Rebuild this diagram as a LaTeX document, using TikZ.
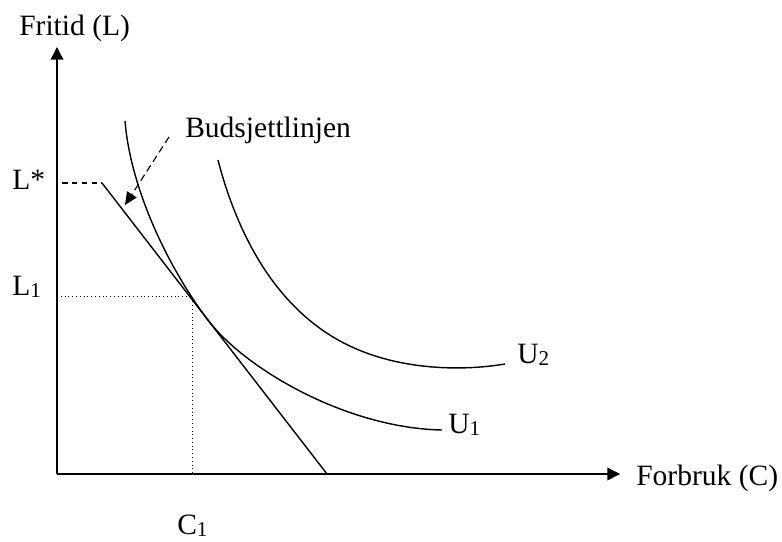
\documentclass[tikz,border=0pt]{standalone}
\usepackage{fontspec}
\setmainfont{Liberation Serif}
\usetikzlibrary{arrows.meta,hobby}
\newcommand\lsub[1]{\raisebox{-2pt}{\fontsize{15pt}{17pt}\selectfont #1}}
\tikzset{
    lbl/.style={inner sep=0pt,anchor=base west,font=\fontsize{21pt}{25pt}\selectfont},
    axis/.style={line width=1pt,-{Triangle[length=9pt,width=9pt]}},
    curve/.style={line width=1pt}
}
\begin{document}
\begin{tikzpicture}
        \useasboundingbox (-1.425,-1.675) rectangle (18.125,11.85);
        \coordinate (O) at (0,0);
        \coordinate (ytop) at (0,10.675);
        \coordinate (xend) at (14.075,0);
        \draw [axis] (O) -- (ytop);
        \draw [axis] (O) -- (xend);
        \node [lbl] (fritid) at (-0.95,10.975) {Fritid (L)};
        \node [lbl] (forbruk) at (14.475,-0.275) {Forbruk (C)};
        % budsjettlinje og L*
        \coordinate (Lstar) at (0.125,7.275);
        \coordinate (knekk) at (1.125,7.275);
        \coordinate (bunn) at (6.75,0);
        \node [lbl] (lstar) at (-1.125,7.125) {L*};
        \draw [line width=0.8pt,dash pattern=on 4pt off 3pt] (Lstar) -- (knekk);
        \draw [curve] (knekk) -- (bunn);
        \node [lbl] (budsjett) at (3.2,8.425) {Budsjettlinjen};
        \coordinate (pilstart) at (2.8,8.425);
        \coordinate (pilslutt) at (1.7,6.725);
        \draw [line width=0.8pt,dash pattern=on 5pt off 3pt,-{Triangle[length=9pt,width=8pt]}] (pilstart) -- (pilslutt);
        % optimum
        \coordinate (L1) at (0,4.45);
        \coordinate (opt) at (3.375,4.45);
        \coordinate (C1) at (3.375,0);
        \draw [dotted,line width=0.7pt] (L1) -- (opt) -- (C1);
        \node [lbl] (l1) at (-1.125,4.475) {L\lsub{1}};
        \node [lbl] (c1) at (3.0,-1.5) {C\lsub{1}};
        % indifferenskurver
        \coordinate (T) at (3.8,3.815);
        \draw [curve] (1.7,8.825) .. controls (1.85,7.0) and (2.9,4.98) .. (T)
            .. controls (4.7,2.651) and (7.2,1.15) .. (9.625,1.1) coordinate (u1end);
        \draw [curve,use Hobby shortcut] (4.025,7.85) .. (4.4,6.675) .. (5.25,5.025) .. (6.9,3.425) .. (9.4,2.675) .. (11.2,2.75) coordinate (u2end);
        \node [lbl] (u1) at (9.775,1.025) {U\lsub{1}};
        \node [lbl] (u2) at (11.5,2.775) {U\lsub{2}};
    \end{tikzpicture}
\end{document}
